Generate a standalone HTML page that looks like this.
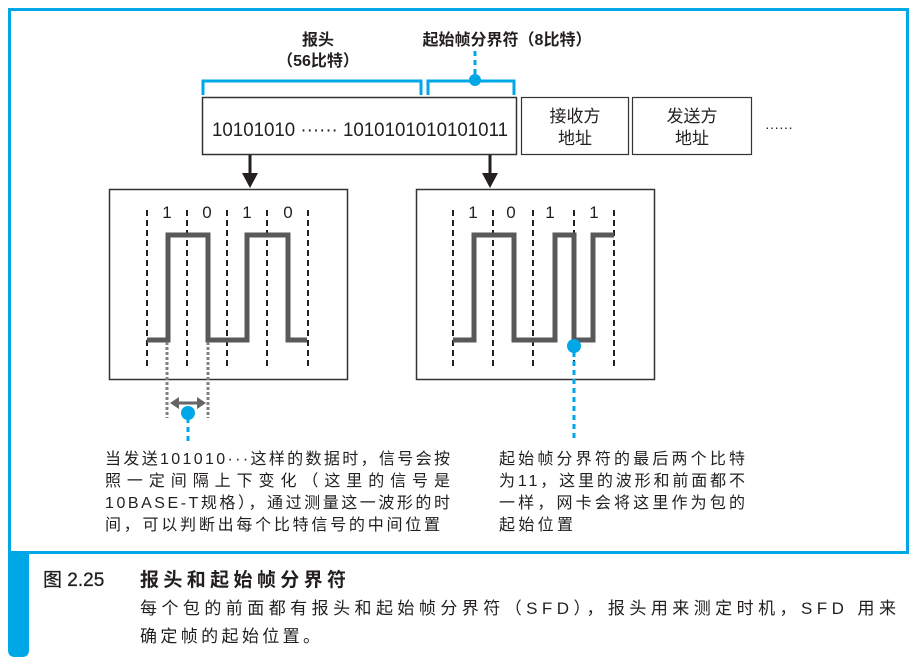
<!DOCTYPE html>
<html><head><meta charset="utf-8"><style>
html,body{margin:0;padding:0;background:#fff;}
svg{display:block;font-family:"Liberation Sans","Noto Sans CJK SC",sans-serif;}
</style></head><body>
<svg width="917" height="664" viewBox="0 0 917 664" xmlns="http://www.w3.org/2000/svg">
<!-- frame -->
<rect x="9.5" y="9.5" width="898" height="543" fill="none" stroke="#00a7e6" stroke-width="3"/>
<path d="M8 552 H29 V650 Q29 657 22 657 H15 Q8 657 8 650 Z" fill="#00a7e6"/>

<!-- top labels -->
<g fill="#231f20" font-size="16" font-weight="bold" text-anchor="middle">
<text x="318" y="45">报头</text>
<text x="318" y="66">（56比特）</text>
<text x="507" y="45">起始帧分界符（8比特）</text>
</g>
<!-- brackets -->
<path d="M203 95 V81 H421 V95" fill="none" stroke="#00a7e6" stroke-width="3"/>
<path d="M428 95 V81 H514 V95" fill="none" stroke="#00a7e6" stroke-width="3"/>
<line x1="475" y1="51" x2="475" y2="76" stroke="#00a7e6" stroke-width="3" stroke-dasharray="5,4"/>
<circle cx="475" cy="80" r="6" fill="#00a7e6"/>

<!-- frame boxes -->
<rect x="202.5" y="97.5" width="314" height="57" fill="#fff" stroke="#333" stroke-width="1.5"/>
<rect x="521.5" y="97.5" width="107" height="57" fill="#fff" stroke="#333" stroke-width="1.2"/>
<rect x="632.5" y="97.5" width="119" height="57" fill="#fff" stroke="#333" stroke-width="1.2"/>
<text x="212" y="136" font-size="19" fill="#231f20" textLength="296" lengthAdjust="spacingAndGlyphs">10101010 ······ 1010101010101011</text>
<g font-size="17" fill="#231f20" text-anchor="middle">
<text x="575" y="122">接收方</text><text x="575" y="144">地址</text>
<text x="692" y="122">发送方</text><text x="692" y="144">地址</text>
</g>
<text x="765" y="132" font-size="14" fill="#231f20">······</text>

<!-- arrows -->
<line x1="250" y1="155" x2="250" y2="175" stroke="#231f20" stroke-width="3"/>
<path d="M242 173 H258 L250 188 Z" fill="#231f20"/>
<line x1="490" y1="155" x2="490" y2="175" stroke="#231f20" stroke-width="3"/>
<path d="M482 173 H498 L490 188 Z" fill="#231f20"/>

<!-- left panel -->
<rect x="109.5" y="189.5" width="238" height="190" fill="#fff" stroke="#333" stroke-width="1.5"/>
<g stroke="#231f20" stroke-width="2" stroke-dasharray="6,4">
<line x1="147" y1="210" x2="147" y2="367"/><line x1="187" y1="210" x2="187" y2="367"/>
<line x1="227" y1="210" x2="227" y2="367"/><line x1="267" y1="210" x2="267" y2="367"/>
<line x1="308" y1="210" x2="308" y2="367"/>
</g>
<g font-size="17" fill="#231f20" text-anchor="middle">
<text x="167" y="218">1</text><text x="207" y="218">0</text><text x="247" y="218">1</text><text x="288" y="218">0</text>
</g>
<path d="M147 340 H168 V235 H208 V340 H247 V235 H288 V340 H307" fill="none" stroke="#58595b" stroke-width="5"/>
<g stroke="#808080" stroke-width="3" stroke-dasharray="3,2">
<line x1="167" y1="342" x2="167" y2="418"/><line x1="208" y1="342" x2="208" y2="418"/>
</g>
<line x1="176" y1="403" x2="200" y2="403" stroke="#666" stroke-width="3"/>
<path d="M170 403 L179 397 V409 Z M206 403 L197 397 V409 Z" fill="#666"/>
<line x1="188" y1="418" x2="188" y2="445" stroke="#00a7e6" stroke-width="3" stroke-dasharray="5,4"/>
<circle cx="188" cy="413" r="7" fill="#00a7e6"/>

<!-- right panel -->
<rect x="416.5" y="189.5" width="238" height="190" fill="#fff" stroke="#333" stroke-width="1.5"/>
<g stroke="#231f20" stroke-width="2" stroke-dasharray="6,4">
<line x1="453" y1="210" x2="453" y2="367"/><line x1="493" y1="210" x2="493" y2="367"/>
<line x1="533" y1="210" x2="533" y2="367"/><line x1="574" y1="210" x2="574" y2="367"/>
<line x1="614" y1="210" x2="614" y2="367"/>
</g>
<g font-size="17" fill="#231f20" text-anchor="middle">
<text x="473" y="218">1</text><text x="511" y="218">0</text><text x="550" y="218">1</text><text x="594" y="218">1</text>
</g>
<path d="M453 340 H474 V235 H514 V340 H555 V235 H574 V340 H593 V235 H614" fill="none" stroke="#58595b" stroke-width="5"/>
<line x1="574" y1="352" x2="574" y2="440" stroke="#00a7e6" stroke-width="3" stroke-dasharray="5,4"/>
<circle cx="574" cy="346" r="7" fill="#00a7e6"/>

<!-- annotations -->
<g font-size="16" fill="#231f20" lengthAdjust="spacing">
<text x="105" y="464" textLength="345" lengthAdjust="spacing">当发送101010···这样的数据时，信号会按</text>
<text x="105" y="486" textLength="345" lengthAdjust="spacing">照一定间隔上下变化（这里的信号是</text>
<text x="105" y="508" textLength="345" lengthAdjust="spacing">10BASE-T规格），通过测量这一波形的时</text>
<text x="105" y="530" textLength="335" lengthAdjust="spacing">间，可以判断出每个比特信号的中间位置</text>
<text x="499" y="464" textLength="246" lengthAdjust="spacing">起始帧分界符的最后两个比特</text>
<text x="499" y="486" textLength="246" lengthAdjust="spacing">为11，这里的波形和前面都不</text>
<text x="499" y="508" textLength="246" lengthAdjust="spacing">一样，网卡会将这里作为包的</text>
<text x="499" y="530" textLength="74" lengthAdjust="spacing">起始位置</text>
</g>

<!-- caption -->
<text x="43" y="586" font-size="19" fill="#231f20" stroke="#231f20" stroke-width="0.3">图 2.25</text>
<text x="140" y="586" font-size="19" font-weight="bold" fill="#231f20" textLength="206" lengthAdjust="spacing">报头和起始帧分界符</text>
<g font-size="17" fill="#231f20">
<text x="140" y="614" textLength="756" lengthAdjust="spacing">每个包的前面都有报头和起始帧分界符（SFD），报头用来测定时机，SFD 用来</text>
<text x="140" y="642" textLength="180" lengthAdjust="spacing">确定帧的起始位置。</text>
</g>
</svg>
</body></html>
